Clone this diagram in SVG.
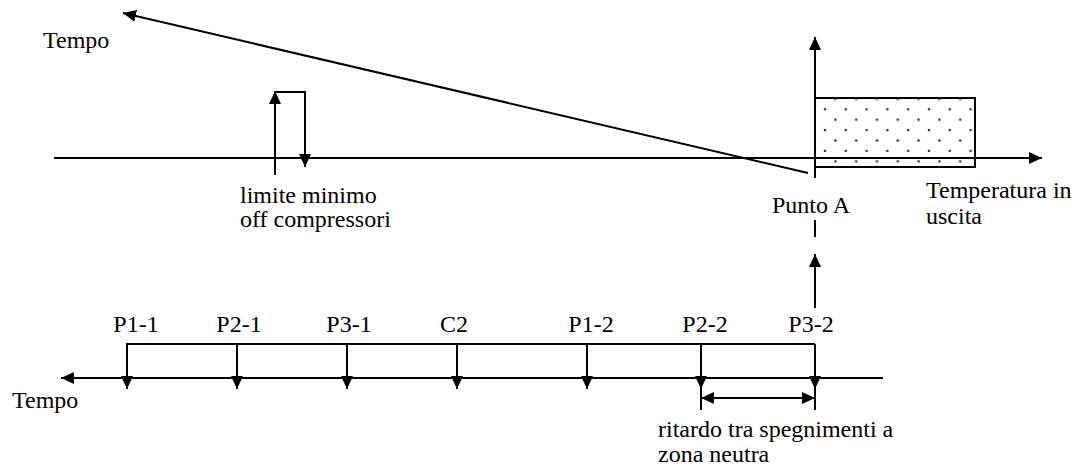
<svg xmlns="http://www.w3.org/2000/svg" width="1071" height="468" viewBox="0 0 1071 468">
<style>
.ln{stroke:#000;stroke-width:2;fill:none}
.ar{marker-end:url(#ah)}
.t{font-family:'Liberation Serif','DejaVu Serif','Times New Roman',serif;font-size:24px;fill:#000}
.m{text-anchor:middle}
</style>
<defs>
<marker id="ah" markerUnits="userSpaceOnUse" markerWidth="13" markerHeight="12" refX="13" refY="6" orient="auto">
<path d="M0,0 L13,6 L0,12 z" fill="#000"/>
</marker>
<marker id="ahs" markerUnits="userSpaceOnUse" markerWidth="13" markerHeight="12" refX="0" refY="6" orient="auto">
<path d="M13,0 L0,6 L13,12 z" fill="#000"/>
</marker>
<pattern id="dots" patternUnits="userSpaceOnUse" x="825" y="109.3" width="20.8" height="20.8">
<circle cx="0" cy="0" r="1.3" fill="#333"/>
<circle cx="20.8" cy="0" r="1.3" fill="#333"/>
<circle cx="0" cy="20.8" r="1.3" fill="#333"/>
<circle cx="20.8" cy="20.8" r="1.3" fill="#333"/>
<circle cx="10.4" cy="10.4" r="1.3" fill="#333"/>
</pattern>
</defs>
<rect width="1071" height="468" fill="#fff"/>

<g id="zone">
<rect x="815" y="98" width="160" height="69" fill="url(#dots)" stroke="#000" stroke-width="2"/>
</g>

<g id="connectors">
<line class="ln ar" x1="54" y1="158" x2="1042" y2="158"/>
<line class="ln ar" x1="815" y1="178" x2="815" y2="37"/>
<line class="ln" x1="815" y1="220" x2="815" y2="237"/>
<line class="ln ar" x1="808" y1="173" x2="123" y2="13"/>
<line class="ln ar" x1="275" y1="175" x2="275" y2="91"/>
<polyline class="ln" points="275,92 305,92 305,155"/>
<line class="ln ar" x1="305" y1="150" x2="305" y2="167"/>
<line class="ln ar" x1="815" y1="308" x2="815" y2="254"/>
<line class="ln ar" x1="883" y1="378" x2="61" y2="378"/>
<polyline class="ln" points="127,389 127,344 815,344"/>
<line class="ln ar" x1="127" y1="344" x2="127" y2="389"/>
<line class="ln ar" x1="237" y1="344" x2="237" y2="389"/>
<line class="ln ar" x1="347" y1="344" x2="347" y2="389"/>
<line class="ln ar" x1="457" y1="344" x2="457" y2="389"/>
<line class="ln ar" x1="587" y1="344" x2="587" y2="389"/>
<line class="ln ar" x1="701" y1="344" x2="701" y2="389"/>
<line class="ln ar" x1="815" y1="344" x2="815" y2="389"/>
<line class="ln" x1="701" y1="389" x2="701" y2="410"/>
<line class="ln" x1="815" y1="389" x2="815" y2="410"/>
<line class="ln" x1="701" y1="398" x2="815" y2="398" marker-start="url(#ahs)" marker-end="url(#ah)"/>
</g>

<g id="labels">
<text class="t" x="43" y="48">Tempo</text>
<text class="t" x="240" y="203">limite minimo</text>
<text class="t" x="240" y="227">off compressori</text>
<text class="t m" x="811" y="213">Punto A</text>
<text class="t" x="926" y="198">Temperatura in</text>
<text class="t" x="926" y="224">uscita</text>
<text class="t m" x="136" y="332">P1-1</text>
<text class="t m" x="239" y="332">P2-1</text>
<text class="t m" x="349" y="332">P3-1</text>
<text class="t m" x="454" y="332">C2</text>
<text class="t m" x="591" y="332">P1-2</text>
<text class="t m" x="705" y="332">P2-2</text>
<text class="t m" x="811" y="332">P3-2</text>
<text class="t" x="12" y="408">Tempo</text>
<text class="t" x="658" y="437">ritardo tra spegnimenti a</text>
<text class="t" x="658" y="462">zona neutra</text>
</g>
</svg>
